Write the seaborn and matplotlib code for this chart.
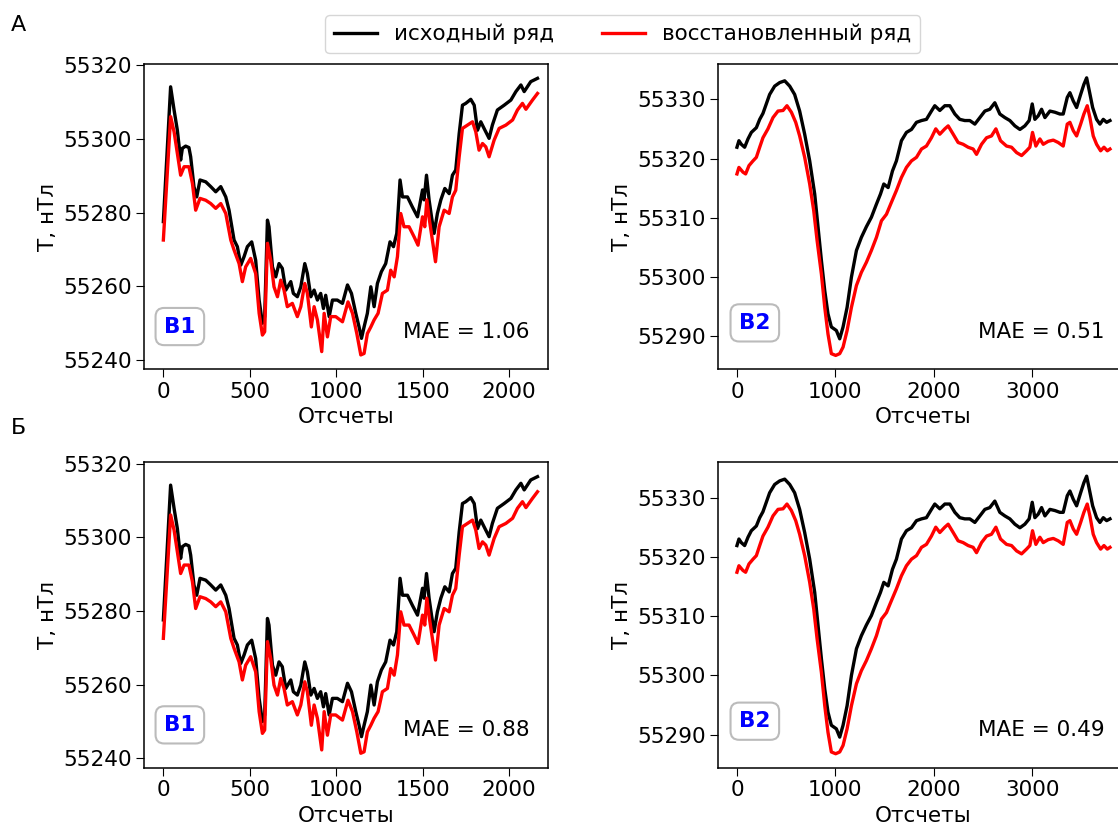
import seaborn as sns
from matplotlib import pyplot as plt

# ряд B1: отсчеты и значения T (исходный и восстановленный)
b1_x_src = [0, 42, 62, 81, 100, 110, 129, 148, 158, 177, 193, 212, 245, 274, 303, 332, 361, 380,
            409, 428, 448, 467, 486, 511, 534, 554, 573, 586, 602, 611, 631, 650, 669, 688, 708,
            737, 752, 775, 795, 818, 833, 853, 872, 891, 910, 926, 939, 959, 978, 1006, 1036, 1065,
            1088, 1113, 1132, 1146, 1161, 1180, 1200, 1219, 1238, 1261, 1286, 1311, 1331, 1350,
            1369, 1383, 1412, 1440, 1470, 1499, 1508, 1522, 1537, 1551, 1566, 1585, 1605, 1628,
            1653, 1672, 1691, 1711, 1730, 1749, 1778, 1798, 1817, 1836, 1855, 1884, 1903, 1932,
            1971, 2010, 2039, 2068, 2087, 2125, 2164]
b1_src = [55277.6, 55314.2, 55307.9, 55302.4, 55294.3, 55297.5, 55298.1, 55297.7, 55295.2, 55287.1,
          55284.3, 55288.9, 55288.4, 55287.1, 55285.7, 55287.1, 55284.3, 55280.7, 55272.6, 55270.8,
          55265.8, 55268.1, 55270.8, 55272.1, 55267.1, 55256.3, 55250.0, 55251.8, 55278.0, 55276.2,
          55265.3, 55262.6, 55266.2, 55264.9, 55259.0, 55261.3, 55258.1, 55257.2, 55259.9, 55266.2,
          55263.5, 55257.2, 55259.0, 55256.3, 55258.1, 55254.0, 55257.6, 55251.8, 55256.3, 55256.3,
          55255.4, 55260.4, 55258.1, 55252.7, 55249.0, 55245.9, 55249.0, 55252.7, 55259.9, 55254.5,
          55260.8, 55264.0, 55266.2, 55272.1, 55270.8, 55274.4, 55288.9, 55284.3, 55284.3, 55281.6,
          55278.9, 55286.2, 55283.5, 55290.2, 55283.5, 55278.9, 55274.4, 55279.8, 55283.5, 55286.6,
          55285.2, 55290.2, 55291.6, 55301.5, 55309.2, 55309.7, 55310.8, 55309.2, 55302.4, 55304.7,
          55302.9, 55300.2, 55303.8, 55307.9, 55309.2, 55310.6, 55312.9, 55314.7, 55312.9, 55315.6,
          55316.5]
b1_x_rec = [0, 42, 62, 81, 100, 120, 148, 168, 187, 212, 245, 274, 303, 332, 361, 390, 409, 438,
            457, 476, 505, 534, 554, 573, 586, 602, 621, 640, 660, 679, 698, 717, 746, 775, 795,
            818, 833, 856, 872, 891, 916, 930, 949, 968, 997, 1036, 1068, 1094, 1119, 1142, 1161,
            1180, 1200, 1219, 1242, 1267, 1296, 1315, 1335, 1354, 1373, 1392, 1421, 1450, 1473,
            1499, 1512, 1524, 1539, 1556, 1574, 1595, 1624, 1653, 1672, 1691, 1711, 1730, 1759,
            1788, 1807, 1826, 1846, 1865, 1884, 1913, 1942, 1981, 2020, 2048, 2077, 2097, 2135, 2164]
b1_rec = [55272.6, 55306.1, 55302.0, 55296.1, 55290.2, 55292.5, 55292.5, 55288.0, 55280.7, 55283.9,
          55283.4, 55282.5, 55281.2, 55282.5, 55279.8, 55272.6, 55269.9, 55266.2, 55261.3, 55265.3,
          55267.6, 55263.5, 55252.7, 55246.8, 55247.7, 55271.7, 55267.1, 55259.9, 55257.2, 55261.7,
          55259.0, 55254.5, 55255.4, 55251.8, 55254.5, 55260.8, 55258.1, 55249.0, 55254.5, 55250.9,
          55242.3, 55252.7, 55246.3, 55251.8, 55251.8, 55250.4, 55255.8, 55252.7, 55247.2, 55241.4,
          55241.8, 55247.2, 55249.0, 55250.9, 55252.7, 55258.1, 55259.0, 55264.4, 55262.6, 55268.1,
          55279.8, 55276.2, 55276.2, 55273.5, 55271.2, 55278.9, 55276.2, 55283.5, 55278.0, 55272.6,
          55266.7, 55276.2, 55280.7, 55279.8, 55284.3, 55286.1, 55295.2, 55302.9, 55303.8, 55304.7,
          55302.0, 55297.0, 55298.8, 55297.9, 55295.2, 55299.7, 55302.9, 55303.8, 55305.2, 55307.9,
          55309.7, 55308.1, 55310.6, 55312.4]

# ряд B2
b2_x_src = [0, 20, 44, 78, 112, 146, 197, 231, 264, 298, 332, 383, 434, 485, 536, 586, 637, 688,
            739, 790, 824, 858, 892, 925, 959, 1010, 1044, 1078, 1119, 1163, 1214, 1264, 1315, 1366,
            1417, 1458, 1492, 1536, 1580, 1620, 1671, 1722, 1773, 1824, 1875, 1925, 1976, 2010,
            2061, 2112, 2163, 2214, 2264, 2315, 2366, 2417, 2468, 2519, 2569, 2620, 2671, 2722,
            2773, 2824, 2875, 2925, 2969, 3000, 3027, 3061, 3095, 3129, 3180, 3231, 3281, 3315,
            3356, 3383, 3417, 3451, 3492, 3525, 3553, 3580, 3614, 3654, 3688, 3722, 3756, 3790]
b2_src = [55321.9, 55323.0, 55322.4, 55321.9, 55323.3, 55324.4, 55325.2, 55326.6, 55327.6, 55329.2,
          55330.8, 55332.2, 55332.8, 55333.1, 55332.2, 55330.8, 55328.0, 55324.1, 55319.6, 55314.0,
          55308.4, 55302.8, 55297.7, 55293.8, 55291.6, 55291.0, 55289.6, 55291.6, 55294.9, 55300.0,
          55304.5, 55306.7, 55308.5, 55310.1, 55312.3, 55314.0, 55315.7, 55315.1, 55317.9, 55319.6,
          55323.0, 55324.4, 55324.9, 55326.1, 55326.4, 55326.6, 55328.0, 55328.9, 55328.1, 55328.9,
          55328.9, 55327.5, 55326.6, 55326.4, 55326.4, 55325.8, 55326.9, 55328.0, 55328.3, 55329.4,
          55327.5, 55326.9, 55326.4, 55325.5, 55324.9, 55325.5, 55326.4, 55329.2, 55326.6, 55327.2,
          55328.3, 55326.9, 55328.0, 55327.8, 55327.5, 55327.5, 55330.3, 55331.1, 55329.7, 55328.6,
          55330.8, 55332.5, 55333.6, 55331.4, 55328.6, 55326.6, 55325.8, 55326.6, 55326.1, 55326.4]
b2_x_rec = [0, 20, 61, 88, 122, 163, 197, 231, 264, 315, 366, 417, 468, 508, 553, 597, 637, 688,
            739, 780, 814, 858, 892, 925, 959, 1003, 1044, 1078, 1119, 1163, 1214, 1264, 1315, 1366,
            1417, 1468, 1519, 1569, 1620, 1671, 1722, 1773, 1824, 1875, 1925, 1976, 2020, 2061,
            2112, 2146, 2197, 2247, 2298, 2349, 2400, 2434, 2485, 2536, 2586, 2631, 2678, 2739,
            2790, 2841, 2892, 2942, 2976, 3003, 3037, 3078, 3112, 3163, 3214, 3264, 3315, 3356,
            3383, 3417, 3451, 3492, 3525, 3559, 3586, 3620, 3654, 3695, 3729, 3763, 3790]
b2_rec = [55317.4, 55318.5, 55317.7, 55317.4, 55318.8, 55319.6, 55320.2, 55321.9, 55323.5, 55325.0,
          55326.9, 55328.0, 55328.1, 55328.9, 55327.8, 55326.1, 55323.8, 55320.2, 55315.7, 55311.2,
          55306.2, 55300.5, 55294.9, 55290.4, 55287.1, 55286.8, 55287.1, 55288.2, 55291.0, 55294.9,
          55298.6, 55300.8, 55302.5, 55304.5, 55306.7, 55309.5, 55310.6, 55312.6, 55314.6, 55316.8,
          55318.5, 55319.6, 55320.2, 55321.6, 55322.1, 55323.5, 55325.0, 55324.1, 55325.0, 55325.5,
          55324.1, 55322.7, 55322.4, 55321.9, 55321.6, 55320.7, 55322.4, 55323.5, 55323.8, 55325.0,
          55323.0, 55322.1, 55321.9, 55321.0, 55320.5, 55321.3, 55321.9, 55324.4, 55322.1, 55323.3,
          55322.4, 55322.9, 55323.1, 55322.7, 55322.1, 55325.8, 55326.1, 55324.7, 55323.8, 55325.8,
          55327.5, 55328.9, 55326.9, 55323.8, 55322.4, 55321.3, 55321.9, 55321.3, 55321.6]

mae_a = ["1.06", "0.51"]
mae_b = ["0.88", "0.49"]
row_labels = ["А", "Б"]

plt.rcParams['font.size'] = 15.5
plt.rcParams['lines.linewidth'] = 2.4
plt.rcParams['xtick.major.size'] = 5.5
plt.rcParams['ytick.major.size'] = 5.5
plt.rcParams['axes.linewidth'] = 1.1

fig = plt.figure(figsize=(11.18, 8.34), dpi=100)

rows_bottom = [0.5572, 0.0796]
h = 0.3661
panels = [
    (0.1291, 0.3611, b1_x_src, b1_src, b1_x_rec, b1_rec, "В1"),
    (0.6425, 0.3670, b2_x_src, b2_src, b2_x_rec, b2_rec, "В2"),
]
box_pos = [(0.088, 0.14), (0.089, 0.152)]
mae_pos = [0.955, 0.941]

for r, bottom in enumerate(rows_bottom):
    maes = mae_a if r == 0 else mae_b
    for c, (left, w, xs, ys, xr, yr, name) in enumerate(panels):
        ax = fig.add_axes([left, bottom, w, h])
        sns.lineplot(x=xs, y=ys, ax=ax, color='black', label='исходный ряд',
                     sort=False, estimator=None, legend=False)
        sns.lineplot(x=xr, y=yr, ax=ax, color='red', label='восстановленный ряд',
                     sort=False, estimator=None, legend=False)
        if c == 0:
            ax.set_xlim(-110, 2225)
            ax.set_ylim(55237.5, 55320.4)
            ax.set_xticks([0, 500, 1000, 1500, 2000])
            ax.set_yticks([55240, 55260, 55280, 55300, 55320])
        else:
            ax.set_xticks([0, 1000, 2000, 3000])
            ax.set_yticks([55290, 55300, 55310, 55320, 55330])
        ax.ticklabel_format(useOffset=False, style='plain', axis='y')
        ax.set_xlabel("Отсчеты")
        ax.set_ylabel("T, нТл")
        ax.text(box_pos[c][0], box_pos[c][1], name, transform=ax.transAxes,
                ha='center', va='center', color='blue', fontweight='bold',
                bbox=dict(boxstyle='round,pad=0.4', fc='white', ec='#bbbbbb', lw=1.5))
        ax.text(mae_pos[c], 0.123, "MAE = " + maes[c], transform=ax.transAxes,
                ha='right', va='center')
        if r == 0 and c == 0:
            handles, labels = ax.get_legend_handles_labels()

fig.legend(handles, labels, loc='center', bbox_to_anchor=(0.557, 0.959), ncol=2,
           frameon=True, handlelength=2.0, columnspacing=2.2)
fig.text(0.010, 0.963, row_labels[0], fontsize=16)
fig.text(0.010, 0.480, row_labels[1], fontsize=16)

fig.savefig("out.png", dpi=100)
